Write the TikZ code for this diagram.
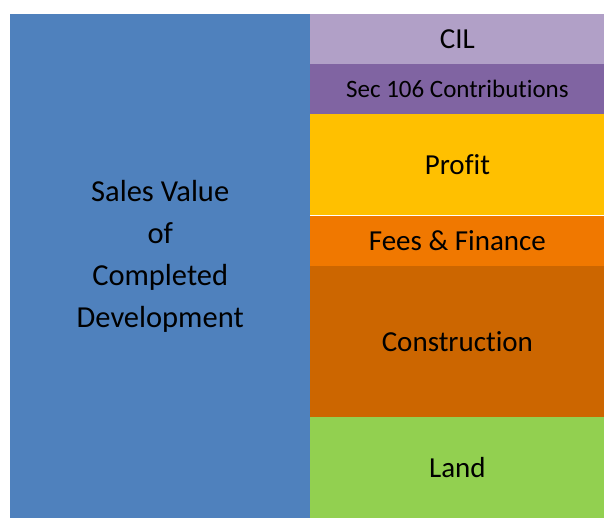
\documentclass[tikz,border=0pt]{standalone}
\usepackage{fontspec}
\setmainfont[Ligatures=NoCommon]{Carlito}
\usetikzlibrary{positioning}

\definecolor{svblue}{RGB}{79,129,189}
\definecolor{cillilac}{RGB}{177,160,199}
\definecolor{secpurple}{RGB}{128,100,162}
\definecolor{profitgold}{RGB}{255,192,0}
\definecolor{feesorange}{RGB}{240,120,0}
\definecolor{constrbrown}{RGB}{204,102,0}
\definecolor{landgreen}{RGB}{146,208,80}

\tikzset{
  block/.style={rectangle, inner sep=0pt, outer sep=0pt, minimum width=294pt,
    fill=#1, text=black, font=\fontsize{29}{34}\selectfont},
  thinline/.style={draw=white, line width=0.6pt}
}

\begin{document}
\begin{tikzpicture}[x=1pt,y=-1pt]
  % canvas of the reference
  \useasboundingbox (0,0) rectangle (604,518);

  % left column
  \node[rectangle, inner sep=0pt, fill=svblue, minimum width=300pt, minimum height=504pt,
        anchor=north west] (sales) at (10,14) {};
  \node[align=center, font=\fontsize{30.5}{42}\selectfont, yshift=10pt] (salestext) at (sales.center)
        {Sales Value\\of\\Completed\\Development};

  % right column, top to bottom
  \node[block=cillilac, minimum height=50pt, anchor=north west] (cil) at (sales.north east) {CIL};
  \node[block=secpurple, minimum height=50pt, below=0pt of cil, font=\fontsize{25}{30}\selectfont] (sec) {Sec 106 Contributions};
  \node[block=profitgold, minimum height=101pt, below=0pt of sec] (profit) {Profit};
  \node[block=feesorange, minimum height=51pt, below=0pt of profit] (fees) {Fees \& Finance};
  \node[block=constrbrown, minimum height=151pt, below=0pt of fees] (constr) {Construction};
  \node[block=landgreen, minimum height=101pt, below=0pt of constr] (land) {Land};

  % hairlines between the blocks
  \draw[thinline] (profit.south west) -- (profit.south east);
\end{tikzpicture}
\end{document}
